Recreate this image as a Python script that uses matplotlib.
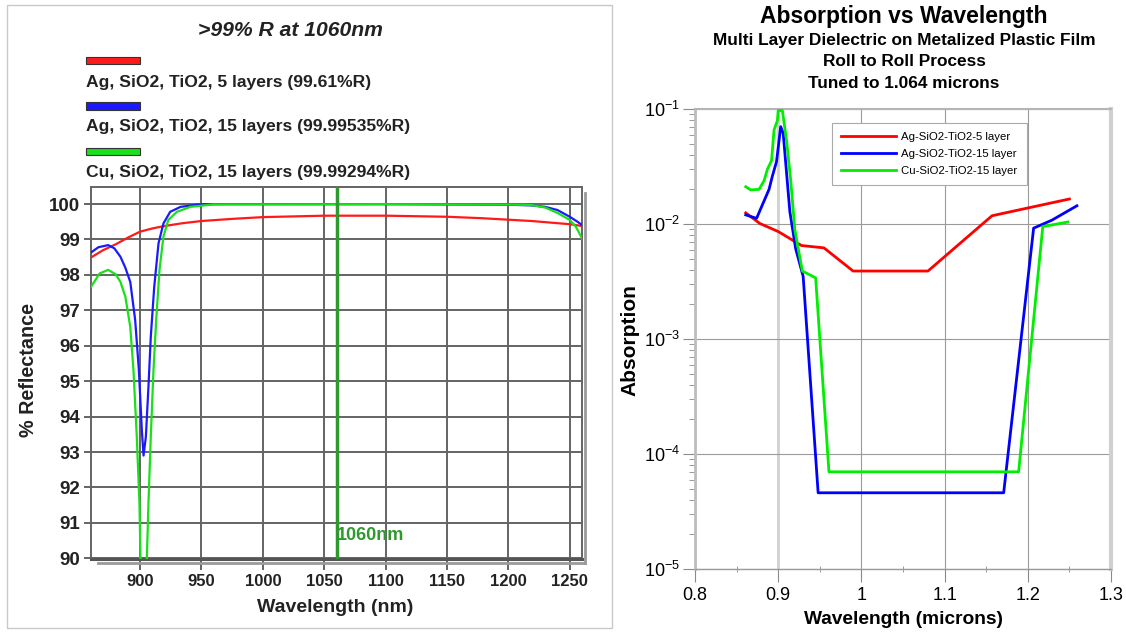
import matplotlib
matplotlib.use("Agg")
import matplotlib.pyplot as plt
from matplotlib.patches import Rectangle
from matplotlib.ticker import FixedLocator, FixedFormatter, LogLocator, NullFormatter

plt.rcParams["font.family"] = ["Liberation Sans", "DejaVu Sans"]

W, H = 1126, 632

# ---- left panel: % reflectance vs wavelength (nm) ----
left_title = ">99% R at 1060nm"
left_labels = ["Ag, SiO2, TiO2, 5 layers (99.61%R)",
               "Ag, SiO2, TiO2, 15 layers (99.99535%R)",
               "Cu, SiO2, TiO2, 15 layers (99.99294%R)"]
left_colors = ["#ff1a1a", "#1a1aff", "#1adf1a"]

ag5_nm = [860, 870, 880, 890, 900, 910, 920, 935, 950, 975, 1000, 1050, 1100,
          1150, 1178, 1219, 1250, 1260]
ag5_r = [98.49, 98.70, 98.86, 99.05, 99.22, 99.31, 99.38, 99.46, 99.52, 99.58,
         99.63, 99.67, 99.67, 99.64, 99.60, 99.52, 99.43, 99.38]

ag15_nm = [860, 866, 874, 879, 884, 888, 892, 896, 899, 901.4, 902.8, 904.7,
           906.8, 908.7, 911.5, 915, 919, 924.5, 933, 949, 970, 1100, 1200,
           1219, 1230, 1240, 1250, 1255, 1260]
ag15_r = [98.63, 98.78, 98.84, 98.75, 98.51, 98.20, 97.80, 96.72, 95.31, 93.62,
          92.90, 93.43, 94.84, 96.25, 97.66, 98.89, 99.45, 99.78, 99.92, 99.99,
          99.995, 99.995, 99.98, 99.96, 99.92, 99.83, 99.64, 99.53, 99.41]

cu15_nm = [860, 867, 874, 880, 884, 888, 892, 894.6, 897.3, 899.5, 900.3, 902.5,
           905.5, 906.8, 908.7, 910.9, 913.1, 915.8, 919, 923, 930, 941, 960,
           1100, 1200, 1219, 1230, 1240, 1250, 1255, 1260]
cu15_r = [97.66, 98.04, 98.14, 98.02, 97.80, 97.38, 96.53, 95.31, 93.43, 91.54,
          90.0, 88.5, 90.0, 91.54, 93.43, 95.31, 96.72, 98.14, 99.08, 99.55,
          99.78, 99.92, 99.99, 99.995, 99.985, 99.97, 99.90, 99.75, 99.55, 99.36,
          99.03]

# ---- right panel: absorption vs wavelength (microns) ----
right_titles = ["Absorption vs Wavelength",
                "Multi Layer Dielectric on Metalized Plastic Film",
                "Roll to Roll Process",
                "Tuned to 1.064 microns"]
right_labels = ["Ag-SiO2-TiO2-5 layer", "Ag-SiO2-TiO2-15 layer", "Cu-SiO2-TiO2-15 layer"]
right_colors = ["#ff0000", "#0000ff", "#00ee00"]

ag5_um = [0.861, 0.878, 0.900, 0.928, 0.955, 0.990, 1.080, 1.157, 1.250]
ag5_abs = [0.0125, 0.0101, 0.0086, 0.0065, 0.0062, 0.0039, 0.0039, 0.0118, 0.0165]

ag15_um = [0.861, 0.874, 0.889, 0.893, 0.898, 0.903, 0.906, 0.914, 0.921, 0.930,
           0.948, 1.171, 1.207, 1.229, 1.259]
ag15_abs = [0.0120, 0.0112, 0.0200, 0.0261, 0.0349, 0.0702, 0.0615, 0.0128,
            0.0061, 0.0035, 4.6e-5, 4.6e-5, 0.0092, 0.0108, 0.0144]

cu15_um = [0.861, 0.867, 0.877, 0.883, 0.887, 0.892, 0.895, 0.899, 0.900, 0.905,
           0.910, 0.915, 0.920, 0.929, 0.945, 0.961, 1.189, 1.218, 1.248]
cu15_abs = [0.0211, 0.0198, 0.0200, 0.0238, 0.0299, 0.0356, 0.0657, 0.0792, 0.097,
            0.097, 0.0537, 0.0241, 0.0089, 0.0039, 0.0034, 7.0e-5, 7.0e-5, 0.0095,
            0.0104]


def fx(px):
    return px / W


def fy(py):
    return 1 - py / H


fig = plt.figure(figsize=(W / 100, H / 100), dpi=100)

# outer frame of the left picture
fig.add_artist(Rectangle((fx(7), fy(628)), fx(612) - fx(7), fy(5) - fy(628),
                         transform=fig.transFigure, fill=False, ec="#c8c8c8", lw=1))

axl = fig.add_axes([fx(91), fy(559), fx(582) - fx(91), fy(187) - fy(559)])
grid_c = "#646464"
for nm, r, c in zip([ag5_nm, ag15_nm, cu15_nm], [ag5_r, ag15_r, cu15_r], left_colors):
    axl.plot(nm, r, color=c, lw=1.6, zorder=3)
axl.axvline(1060, color="#2e9a2e", lw=2.5, zorder=4)
axl.text(1060.7, 90.65, "1060nm", color="#2e9a2e", fontsize=13,
         fontweight="bold", va="center", ha="left", zorder=5)
axl.set_xlim(860, 1260)
axl.set_ylim(89.98, 100.48)
axl.set_xticks(range(900, 1251, 50))
axl.set_yticks(range(90, 101))
axl.grid(True, color=grid_c, lw=1.4)
axl.tick_params(axis="x", length=8, width=1.4, color=grid_c, pad=3, labelsize=12)
axl.tick_params(axis="y", length=5, width=1.4, color=grid_c, pad=3, labelsize=13.5)
for lab in axl.get_xticklabels() + axl.get_yticklabels():
    lab.set_fontweight("bold")
    lab.set_color("#222222")
for s in axl.spines.values():
    s.set_color(grid_c)
    s.set_linewidth(1.4)
axl.spines["bottom"].set_linewidth(2.2)
axl.spines["bottom"].set_color("#555555")
# shaded edge on the right and bottom
axl.plot([1.006, 1.006], [-0.01, 0.985], transform=axl.transAxes, color="#9a9a9a",
         lw=2, clip_on=False)
axl.plot([0.015, 1.006], [-0.01, -0.01], transform=axl.transAxes, color="#9a9a9a",
         lw=2, clip_on=False)

fig.text(fx(290), fy(30), left_title, fontsize=15.2, fontweight="bold",
         style="italic", ha="center", va="center", color="#222222")
bar_y = [60.5, 106, 151]
text_y = [82, 127, 172]
for lab, c, by, ty in zip(left_labels, left_colors, bar_y, text_y):
    fig.add_artist(Rectangle((fx(86), fy(by + 3.5)), fx(140) - fx(86), fy(by - 3.5) - fy(by + 3.5),
                             transform=fig.transFigure, fc=c, ec="#333333", lw=0.8))
    fig.text(fx(86), fy(ty), lab, fontsize=12.6, fontweight="bold", ha="left",
             va="center", color="#222222")
fig.text(fx(28), fy(370), "% Reflectance", rotation=90, fontsize=14.2,
         fontweight="bold", ha="center", va="center", color="#222222")
fig.text(fx(335), fy(608), "Wavelength (nm)", fontsize=14,
         fontweight="bold", ha="center", va="center", color="#222222")

# ---- right panel ----
axr = fig.add_axes([fx(695), fy(569), fx(1111) - fx(695), fy(109) - fy(569)])
for um, a, c, lab in zip([ag5_um, ag15_um, cu15_um], [ag5_abs, ag15_abs, cu15_abs],
                         right_colors, right_labels):
    axr.plot(um, a, color=c, lw=2, label=lab, zorder=3)
axr.set_yscale("log")
axr.set_xlim(0.8, 1.3)
axr.set_ylim(1e-5, 1e-1)
axr.xaxis.set_major_locator(FixedLocator([0.8, 0.9, 1.0, 1.1, 1.2, 1.3]))
axr.xaxis.set_major_formatter(FixedFormatter(["0.8", "0.9", "1", "1.1", "1.2", "1.3"]))
axr.xaxis.set_minor_locator(FixedLocator([0.85, 0.95, 1.05, 1.15, 1.25]))
axr.yaxis.set_minor_locator(LogLocator(base=10, subs=range(2, 10)))
axr.yaxis.set_minor_formatter(NullFormatter())
axr.grid(True, which="major", color="#9a9a9a", lw=0.8)
axr.xaxis.get_gridlines()[1].set_color("#d0d0d0")
axr.xaxis.get_gridlines()[1].set_linewidth(2)
axr.tick_params(axis="both", which="major", labelsize=13, color="#8a8a8a", width=0.8)
axr.tick_params(axis="x", which="major", length=9, pad=4)
axr.tick_params(axis="y", which="major", length=9, pad=2)
axr.tick_params(axis="x", which="minor", length=4, direction="inout", color="#8a8a8a")
axr.tick_params(axis="y", which="minor", length=4, color="#8a8a8a")
axr.spines["left"].set_color("#bdbdbd")
axr.spines["left"].set_linewidth(2)
axr.spines["right"].set_color("#d0d0d0")
axr.spines["right"].set_linewidth(3)
axr.spines["top"].set_color("#b5b5b5")
axr.spines["top"].set_linewidth(1.5)
axr.spines["bottom"].set_color("#9a9a9a")
axr.spines["bottom"].set_linewidth(1)
leg = axr.legend(loc="upper left", bbox_to_anchor=(0.329, 0.97), borderaxespad=0,
                 fancybox=False, framealpha=1, edgecolor="#aaaaaa", handlelength=4.8,
                 prop={"family": ["Liberation Sans Narrow", "Liberation Sans"], "size": 8.2},
                 labelspacing=0.62, borderpad=0.8, handletextpad=0.5)
leg.get_frame().set_linewidth(0.8)

fig.text(fx(904), fy(17), right_titles[0], fontsize=16.5, fontweight="bold",
         ha="center", va="center")
for t, py in zip(right_titles[1:], [41, 62, 83]):
    fig.text(fx(904), fy(py), t, fontsize=12.4, fontweight="bold", ha="center", va="center")
fig.text(fx(630), fy(340), "Absorption", rotation=90, fontsize=15,
         fontweight="bold", ha="center", va="center")
fig.text(fx(903), fy(620), "Wavelength (microns)", fontsize=13.8,
         fontweight="bold", ha="center", va="center")

fig.savefig("out.png", dpi=100)
